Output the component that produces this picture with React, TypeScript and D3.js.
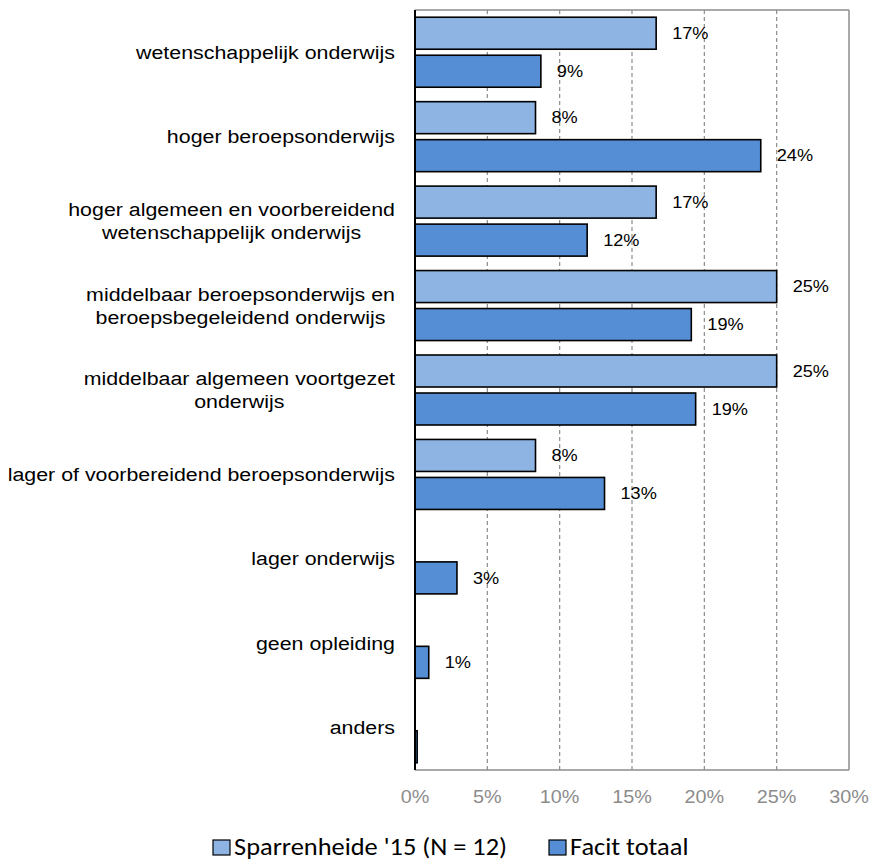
import React from "react";
import * as d3 from "d3";

const categories: string[][] = [
  ["wetenschappelijk onderwijs"],
  ["hoger beroepsonderwijs"],
  ["hoger algemeen en voorbereidend", "wetenschappelijk onderwijs"],
  ["middelbaar beroepsonderwijs en", "beroepsbegeleidend onderwijs"],
  ["middelbaar algemeen voortgezet", "onderwijs"],
  ["lager of voorbereidend beroepsonderwijs"],
  ["lager onderwijs"],
  ["geen opleiding"],
  ["anders"],
];
const sparrenheide: number[] = [16.67, 8.33, 16.67, 25, 25, 8.33, 0, 0, 0];
const facit: number[] = [8.7, 23.9, 11.9, 19.1, 19.4, 13.1, 2.9, 0.95, 0.15];
const seriesNames: string[] = ["Sparrenheide '15 (N = 12)", "Facit totaal"];
const xTicks: number[] = [0, 5, 10, 15, 20, 25, 30];

const colors = ["#8EB4E3", "#558ED5"];

const ARIAL = "'Liberation Sans', Arial, sans-serif";
const CALIBRI = "Carlito, Calibri, 'Open Sans', sans-serif";

let ctx: CanvasRenderingContext2D | null = null;
function measure(text: string, font: string): number {
  if (!ctx) ctx = document.createElement("canvas").getContext("2d");
  if (!ctx) return text.length * 8;
  ctx.font = font;
  return ctx.measureText(text).width;
}

function T(props: { x: number; y: number; anchor?: string; size: number; family: string; fill?: string; sx?: number; children: React.ReactNode }) {
  const { x, y, anchor = "start", size, family, fill = "#000", sx = 1.1, children } = props;
  return (
    <text
      transform={`translate(${x},${y}) scale(${sx},1)`}
      x={0}
      y={0}
      textAnchor={anchor}
      dominantBaseline="central"
      fill={fill}
      fontFamily={family}
      fontSize={size}
    >
      {children}
    </text>
  );
}

export default function App() {
  const W = 872, H = 861;
  const left = 415, right = 849, top = 10, bottom = 770;
  const x = d3.scaleLinear().domain([0, 30]).range([left, right]);
  const y = d3.scaleBand<number>().domain(d3.range(categories.length)).range([top, bottom]);
  const rowH = y.bandwidth();
  const barH = 32;
  const gap = 6;
  const catSize = 19;
  const catSX = 1.125;
  const labelRight = 395;
  const lineH = 23;

  const series = [sparrenheide, facit];

  return (
    <svg width={W} height={H} style={{ display: "block", position: "absolute", left: 0, top: 0 }}>
      <rect x={0} y={0} width={W} height={H} fill="#fff" />
      {xTicks.slice(1, -1).map((t) => (
        <line key={t} x1={x(t)} x2={x(t)} y1={top} y2={bottom} stroke="#8c8c8c" strokeWidth={1.2} strokeDasharray="4,3" />
      ))}
      <line x1={left} x2={right} y1={top} y2={top} stroke="#8c8c8c" strokeWidth={1.5} />
      <line x1={right} x2={right} y1={top} y2={bottom} stroke="#8c8c8c" strokeWidth={1.5} />
      <line x1={left} x2={right} y1={bottom} y2={bottom} stroke="#8c8c8c" strokeWidth={1.5} />
      {xTicks.map((t) => (
        <T key={t} x={x(t)} y={797} anchor="middle" size={18} family={ARIAL} fill="#8c8c8c">
          {t}%
        </T>
      ))}
      {categories.map((_, i) => {
        const cy = (y(i) as number) + rowH / 2;
        return series.map((s, si) => {
          const v = s[i];
          if (v <= 0) return null;
          const by = si === 0 ? cy - gap / 2 - barH : cy + gap / 2;
          const w = x(v) - x(0);
          return (
            <g key={`${i}-${si}`}>
              <rect x={x(0)} y={by} width={Math.max(w, 1)} height={barH} fill={colors[si]} stroke="#000" strokeWidth={1.6} />
              {v >= 0.5 && (
                <T x={x(v) + 16} y={by + barH / 2} size={16.5} family={ARIAL}>
                  {Math.round(v)}%
                </T>
              )}
            </g>
          );
        });
      })}
      <line x1={left} x2={left} y1={top} y2={bottom} stroke="#000" strokeWidth={2} />
      {categories.map((lines, i) => {
        const cy = (y(i) as number) + rowH / 2;
        const maxW = Math.max(...lines.map((l) => measure(l, `${catSize}px ${ARIAL}`))) * catSX;
        const cx = labelRight - maxW / 2;
        const y0 = cy - ((lines.length - 1) * lineH) / 2;
        return (
          <g key={i}>
            {lines.map((l, li) => (
              <T key={li} x={cx} y={y0 + li * lineH} anchor="middle" size={catSize} family={ARIAL} sx={catSX}>
                {l}
              </T>
            ))}
          </g>
        );
      })}
      {seriesNames.map((n, i) => {
        const lx = i === 0 ? 213 : 549;
        return (
          <g key={n}>
            <rect x={lx} y={840} width={17} height={15} fill={colors[i]} stroke="#000" strokeWidth={1.2} />
            <T x={lx + 21} y={847} size={24} family={CALIBRI}>
              {n}
            </T>
          </g>
        );
      })}
    </svg>
  );
}
